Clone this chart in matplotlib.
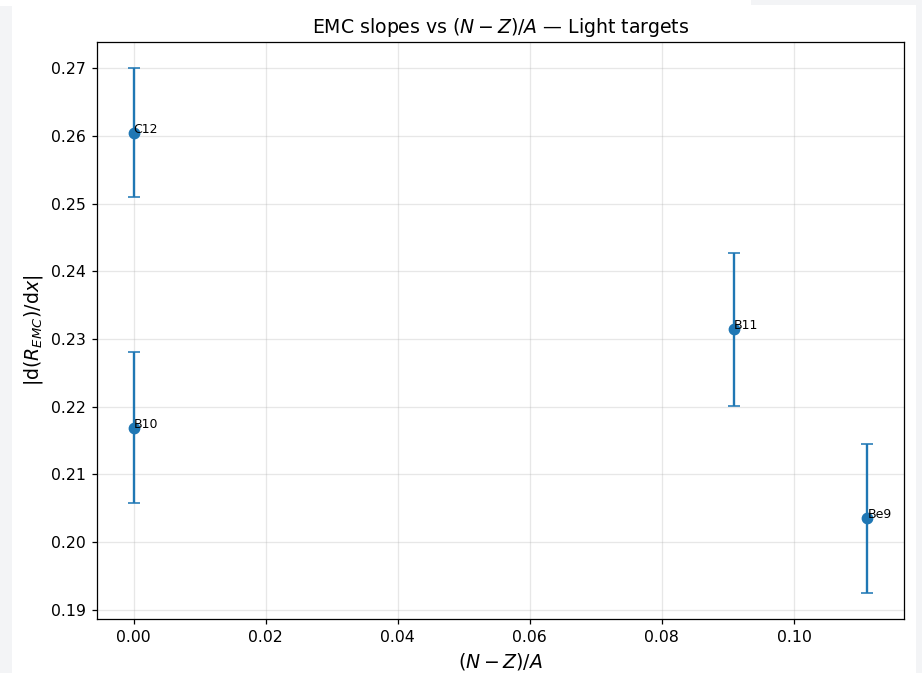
import matplotlib
matplotlib.use("Agg")
import matplotlib.pyplot as plt
from matplotlib.patches import Rectangle

# Light nuclear targets: neutron excess and EMC slope magnitudes
targets = ["C12", "B10", "B11", "Be9"]
n_minus_z_over_a = [0.0, 0.0, 1 / 11, 1 / 9]
emc_slope = [0.2605, 0.2169, 0.2314, 0.2035]
emc_slope_err = [0.0095, 0.0112, 0.0113, 0.0110]

DPI = 113
W, H = 922, 673
fig = plt.figure(figsize=(W / DPI, H / DPI), dpi=DPI)

# page-like light frame around the canvas
frame_color = "#f3f4f6"
for (x0, y0, w, h) in [(0, 0, 12, H - 6), (751, H - 5, W - 751, 5), (916, 0, 6, H - 5)]:
    fig.patches.append(Rectangle((x0 / W, y0 / H), w / W, h / H,
                                 transform=fig.transFigure, color=frame_color,
                                 zorder=-10, lw=0))

ax = fig.add_axes([97 / W, (H - 619) / H, (904 - 97) / W, (619 - 42) / H])
ax.errorbar(n_minus_z_over_a, emc_slope, yerr=emc_slope_err, fmt="o",
            capsize=4, color="#1f77b4", ms=6.5)
for name, x, y in zip(targets, n_minus_z_over_a, emc_slope):
    ax.text(x, y, name, fontsize=8)

ax.set_title(r"EMC slopes vs $(N-Z)/A$ — Light targets", fontsize=12)
ax.set_xlabel(r"$(N-Z)/A$", fontsize=12)
ax.set_ylabel(r"$|\mathrm{d}(R_{EMC})/\mathrm{d}x|$", fontsize=12)
ax.grid(True, alpha=0.3)

fig.savefig("out.png", dpi=DPI)
